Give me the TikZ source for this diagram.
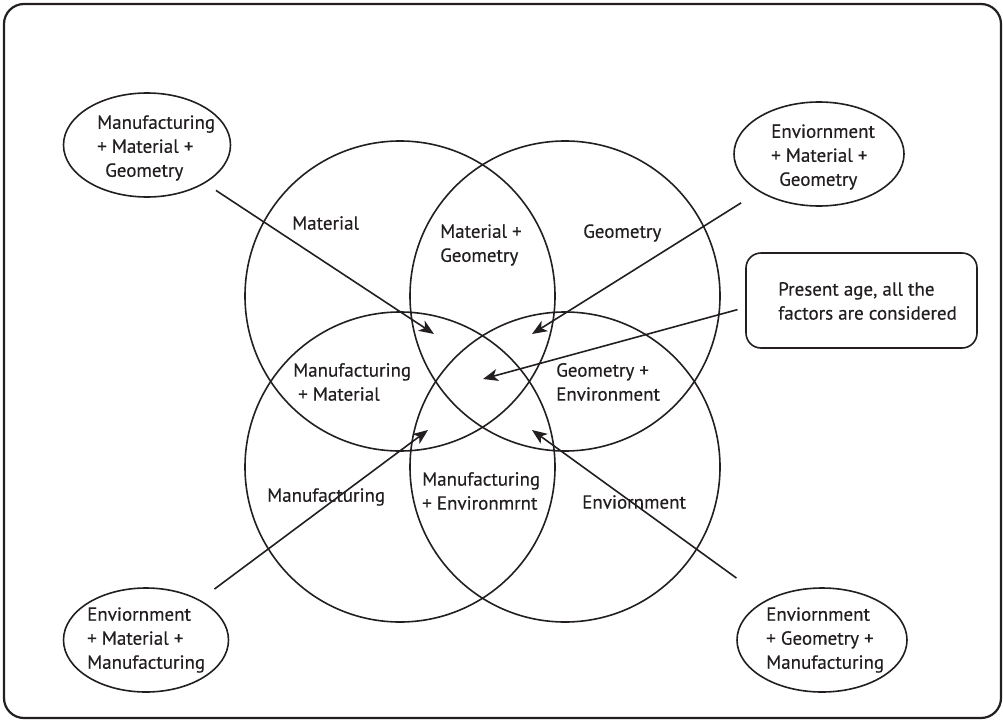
\documentclass[tikz,border=0pt]{standalone}
\usepackage{fontspec}
\setmainfont{PT Sans}
\newfontfamily\lblfont{PT Sans}[FakeBold=0.35]
\usetikzlibrary{shapes.geometric,arrows.meta}
\definecolor{ink}{RGB}{35,31,32}
\begin{document}
\begin{tikzpicture}[x=1pt,y=-1pt,
  ring/.style={circle, draw=ink, line width=1.6pt, minimum size=310pt, inner sep=0pt},
  oval/.style={ellipse, draw=ink, line width=1.6pt, minimum height=104pt, inner sep=0pt},
  lbl/.style={align=left, inner sep=0pt, anchor=west, text=ink,
              font=\lblfont\fontsize{19}{24}\selectfont},
  arr/.style={draw=ink, line width=1.6pt, -{Stealth[length=15pt,width=12pt,inset=4pt]}}]
\useasboundingbox (0,0) rectangle (1003,720);
% outer frame
\draw[ink, line width=2.2pt, rounded corners=20pt] (4,4) rectangle (1001,718);

% the four overlapping factor circles
\node[ring] (mat) at (400,296) {};
\node[ring] (geo) at (565,296) {};
\node[ring] (man) at (400,467) {};
\node[ring] (env) at (565,467) {};

% region labels
\node[lbl] (lmat) at (292,223) {Material};
\node[lbl] (lmatgeo) at (440,245) {Material +\\Geometry};
\node[lbl] (lgeo) at (583,233) {Geometry};
\node[lbl] (lmanmat) at (293,382) {Manufacturing\\\hspace*{5pt}+ Material};
\node[lbl] (lgeoenv) at (556,382) {Geometry +\\Environment};
\node[lbl] (lman) at (267,497) {Manufacturing};
\node[lbl] (lmanenv) at (422,491) {Manufacturing\\+ Environmrnt};
\node[lbl] (lenv) at (582,502) {Enviornment};

% combination ovals
\node[oval, minimum width=167pt] (e1) at (147,145) {};
\node[oval, minimum width=170pt] (e2) at (819,154) {};
\node[oval, minimum width=165pt] (e3) at (146,640) {};
\node[oval, minimum width=170pt] (e4) at (822,640) {};
\node[lbl] (t1) at (97,148) {Manufacturing\\+ Material +\\\hspace*{8pt}Geometry};
\node[lbl] (t2) at (771,157) {Enviornment\\+ Material +\\\hspace*{8pt}Geometry};
\node[lbl] (t3) at (87,640) {Enviornment\\+ Material +\\Manufacturing};
\node[lbl] (t4) at (766,640) {Enviornment\\+ Geometry +\\Manufacturing};

% present-age box
\node[draw=ink, line width=1.6pt, rounded corners=15pt, minimum width=231pt,
      minimum height=95pt, inner sep=0pt] (all) at (861.5,300.5) {};
\node[lbl] (tall) at (778,301) {Present age, all the\\factors are considered};

% arrow targets
\coordinate (p1) at (434,334);
\coordinate (p2) at (532,334);
\coordinate (p3) at (483,379);
\coordinate (p4) at (428,430);
\coordinate (p5) at (532,430);

% arrows
\draw[arr, shorten <=13pt] (e1) -- (p1);
\draw[arr, shorten <=21pt] (e2) -- (p2);
\draw[arr, shorten <=8pt] ([yshift=-7pt]all.west) -- (p3);
\draw[arr, shorten <=18pt] (e3) -- (p4);
\draw[arr, shorten <=37pt] (e4) -- (p5);
\end{tikzpicture}
\end{document}
